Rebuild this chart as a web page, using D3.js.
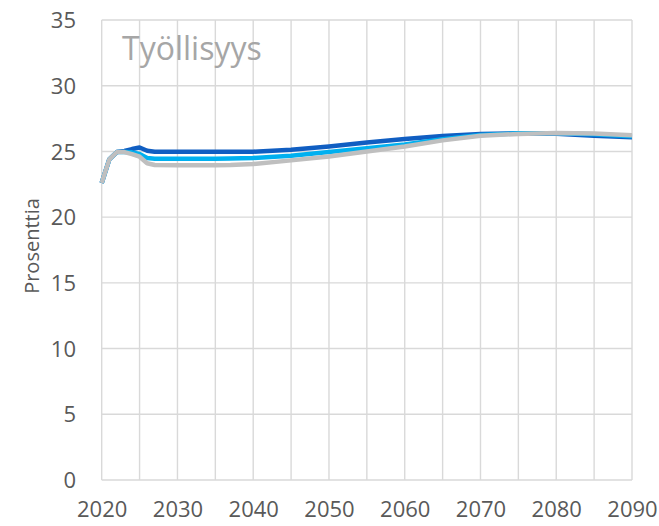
<!DOCTYPE html>
<html>
<head>
<meta charset="utf-8">
<script src="https://cdn.jsdelivr.net/npm/d3@7"></script>
<style>
  html, body { margin: 0; padding: 0; background: #ffffff; }
  svg { display: block; }
</style>
</head>
<body>
<svg id="chart" width="659" height="526"></svg>
<script>
const years = [2020, 2021, 2022, 2023, 2024, 2025, 2026, 2027, 2030, 2035, 2037, 2040, 2045, 2050, 2055, 2060, 2065, 2070, 2075, 2080, 2085, 2090];
const seriesDark  = [22.6, 24.4, 24.95, 25.03, 25.18, 25.3, 25.05, 24.97, 24.97, 24.97, 24.97, 24.98, 25.12, 25.38, 25.68, 25.94, 26.17, 26.32, 26.37, 26.35, 26.2, 26.08];
const seriesLight = [22.6, 24.4, 24.95, 24.95, 24.93, 24.8, 24.5, 24.45, 24.45, 24.45, 24.46, 24.5, 24.67, 24.95, 25.25, 25.52, 25.92, 26.25, 26.38, 26.38, 26.3, 26.15];
const seriesGrey  = [22.6, 24.4, 24.95, 24.95, 24.8, 24.6, 24.1, 23.97, 23.95, 23.95, 23.97, 24.04, 24.32, 24.62, 25.0, 25.38, 25.84, 26.2, 26.33, 26.4, 26.36, 26.24];
const yTicks = [0, 5, 10, 15, 20, 25, 30, 35];
const xGridYears = [2020, 2025, 2030, 2035, 2040, 2045, 2050, 2055, 2060, 2065, 2070, 2075, 2080, 2085, 2090];
const xLabelYears = [2020, 2030, 2040, 2050, 2060, 2070, 2080, 2090];
const title = "Työllisyys";
const yTitle = "Prosenttia";

(function () {
const svg = d3.select("#chart");
const pLeft = 101.7, pRight = 632, pTop = 20, pBottom = 480;
const x = d3.scaleLinear().domain([2020, 2090]).range([pLeft, pRight]);
const y = d3.scaleLinear().domain([0, 35]).range([pBottom, pTop]);

const font = "'Open Sans', 'DejaVu Sans', sans-serif";

// gridlines
const g = svg.append("g");
g.selectAll("line.h").data(yTicks).join("line").attr("class", "h")
  .attr("x1", pLeft).attr("x2", pRight)
  .attr("y1", d => y(d)).attr("y2", d => y(d))
  .attr("stroke", "#d9d9d9").attr("stroke-width", 1.4);
g.selectAll("line.v").data(xGridYears).join("line").attr("class", "v")
  .attr("x1", d => x(d)).attr("x2", d => x(d))
  .attr("y1", pTop).attr("y2", pBottom)
  .attr("stroke", "#d9d9d9").attr("stroke-width", 1.4);

// y axis labels
const yAxis = d3.axisLeft(y).tickValues(yTicks).tickSize(0).tickPadding(0).tickFormat(d3.format("d"));
const ya = svg.append("g").attr("transform", "translate(76,0)").call(yAxis);
ya.select(".domain").remove();
ya.selectAll("text").attr("font-family", font).attr("font-size", 22).attr("fill", "#595959").attr("dy", "0.35em");

// x axis labels
const xAxis = d3.axisBottom(x).tickValues(xLabelYears).tickSize(0).tickPadding(0).tickFormat(d3.format("d"));
const xa = svg.append("g").attr("transform", "translate(0,517)").call(xAxis);
xa.select(".domain").remove();
xa.selectAll("text").attr("font-family", font).attr("font-size", 22).attr("fill", "#595959").attr("dy", "0");

// lines
const line = d3.line().x((d, i) => x(years[i])).y(d => y(d));
const series = [
  { values: seriesDark, color: "#105ec2" },
  { values: seriesLight, color: "#00b0f0" },
  { values: seriesGrey, color: "#bfbfbf" }
];
svg.append("g").selectAll("path").data(series).join("path")
  .attr("d", d => line(d.values))
  .attr("fill", "none")
  .attr("stroke", d => d.color)
  .attr("stroke-width", 4.5)
  .attr("stroke-linejoin", "round")
  .attr("stroke-linecap", "butt");

// title inside plot
svg.append("text")
  .attr("x", 122).attr("y", 60)
  .attr("font-family", font).attr("font-size", 32)
  .attr("fill", "#a6a6a6")
  .text(title);

// y axis title
svg.append("text")
  .attr("transform", "translate(39,246) rotate(-90)")
  .attr("text-anchor", "middle")
  .attr("font-family", font).attr("font-size", 20)
  .attr("fill", "#595959")
  .text(yTitle);
})();
</script>
</body>
</html>
